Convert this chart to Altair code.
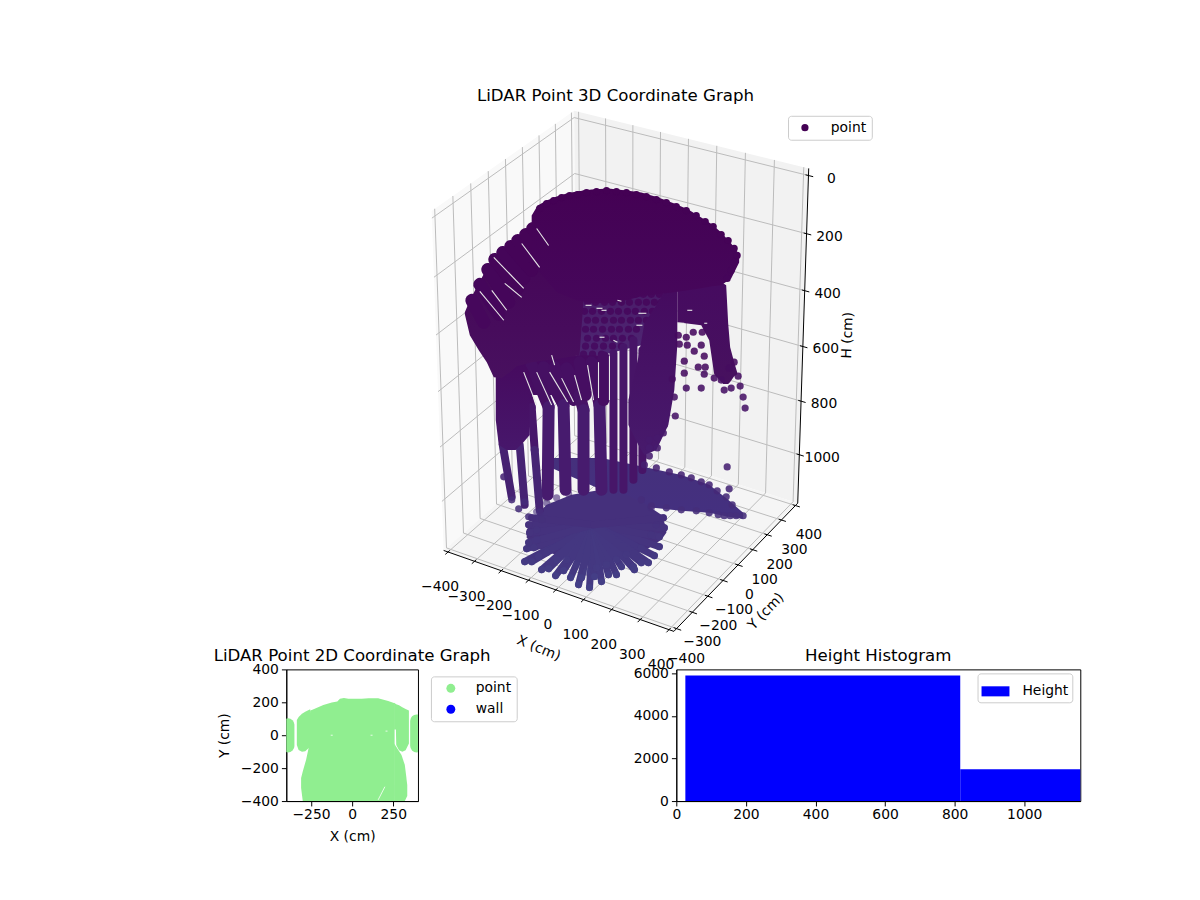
import altair as alt
import numpy as np
import pandas as pd

FONT = "DejaVu Sans"

# ---- 3D frame: view of the box and its ticks
x_lim = [-416.7, 416.7]
y_lim = [-416.7, 416.7]
h_lim = [-24.2, 1184.2]
x_ticks = [-400, -300, -200, -100, 0, 100, 200, 300, 400]
y_ticks = [-400, -300, -200, -100, 0, 100, 200, 300, 400]
h_ticks = [0, 200, 400, 600, 800, 1000]

# corners of the box, used to fit the perspective
corner_abc = [(0, 0, 0), (0, 1, 0), (1, 1, 0), (0, 0, 1), (1, 0, 1), (1, 1, 1)]
corner_sx = [430, 572, 808, 442, 672, 797]
corner_sy = [210, 110, 168, 551, 632, 503]

# ---- 3D cloud, read in screen units
dome_x = [530, 536, 545, 555, 565, 575, 590, 607, 625, 640, 657, 673, 687, 700, 711, 720, 730, 738]
dome_top = [215, 205, 200, 196, 193, 191, 189, 188, 190, 192, 197, 203, 209, 217, 224, 232, 243, 254]
dome_bot = [250, 270, 280, 292, 296, 300, 303, 303, 300, 296, 294, 292, 290, 288, 286, 285, 278, 262]
dome_edge = [(538, 208), (545, 203), (552, 200), (560, 197), (568, 195), (576, 194), (585, 192), (595, 191),
             (605, 190), (615, 191), (625, 192), (635, 194), (645, 196), (655, 199), (665, 202), (675, 206),
             (685, 210), (695, 215), (704, 221), (712, 226), (720, 234), (727, 240), (733, 248), (736, 255),
             (733, 262), (730, 270), (726, 278)]

left_x = [463, 468, 477, 485, 492, 500, 508, 515, 523, 530, 537, 560, 578, 582, 600]
left_top = [312, 300, 283, 268, 258, 251, 245, 239, 233, 227, 221, 200, 191, 190, 190]
left_bot = [314, 335, 350, 362, 377, 378, 372, 366, 364, 362, 361, 358, 355, 300, 300]

pillar_x = [494, 497, 505, 514, 522, 528]
pillar_top = [372, 370, 365, 362, 362, 372]
pillar_bot = [420, 445, 450, 450, 442, 435]

tier_x = [515, 530, 560, 590, 606]
tier_top = [355, 355, 355, 355, 355]
tier_bot = [392, 395, 395, 390, 385]

back_x = [575, 600, 640, 672]
back_top = [285, 285, 285, 285]
back_bot = [358, 355, 345, 330]

band_x = [627, 637, 643, 655, 667, 673, 676]
band_top = [400, 357, 323, 305, 285, 280, 280]
band_bot = [425, 445, 455, 450, 425, 390, 345]

right_x = [676, 700, 708, 713, 722, 725, 727, 729, 733, 736]
right_top = [282, 282, 282, 283, 283, 285, 323, 347, 362, 372]
right_bot = [322, 325, 340, 374, 384, 384, 384, 382, 376, 374]

wedge_x = [550, 600, 643, 680, 708, 727, 742]
wedge_top = [458, 458, 467, 475, 485, 500, 513]
wedge_bot = [468, 490, 507, 511, 513, 517, 519]

disc_x = [525, 535, 545, 570, 600, 625, 645, 660, 665]
disc_top = [530, 515, 505, 495, 490, 495, 505, 515, 528]
disc_bot = [538, 548, 552, 560, 562, 558, 550, 540, 533]
disc_hub = (592, 525)
disc_rim = [(523, 562), (525, 549), (532, 548), (530, 562), (537, 557), (540, 570), (547, 569),
            (554, 576), (562, 571), (569, 578), (577, 585), (588, 588), (580, 578), (593, 577),
            (600, 582), (607, 575), (615, 575), (620, 567), (632, 567), (527, 525), (528, 533),
            (527, 543), (663, 528), (658, 547), (658, 537), (653, 556), (647, 563), (633, 570),
            (640, 563), (530, 518), (662, 518)]
disc_inner = [(535, 540), (545, 553), (555, 560), (565, 560), (575, 565), (585, 572), (595, 568), (605, 565),
              (615, 560), (625, 555), (640, 548), (650, 535), (655, 525), (535, 530), (540, 520),
              (535, 512), (545, 503), (555, 498), (567, 494), (580, 491), (650, 508), (640, 500)]

fan_streaks = [
    [470, 300, 482, 322], [478, 284, 497, 314], [486, 269, 507, 302], [493, 259, 516, 288],
    [501, 252, 522, 278], [509, 246, 530, 270], [516, 240, 536, 262], [524, 234, 540, 252],
    [531, 228, 546, 245], [538, 222, 550, 235],
]
fan_gaps = [[492, 257, 522, 288], [520, 243, 538, 267], [535, 228, 547, 245], [503, 283, 520, 297],
            [478, 291, 502, 320], [490, 290, 505, 310], [550, 355, 553, 365],
            [600, 310, 605, 310], [637, 313, 645, 313], [635, 325, 641, 325], [686, 310, 691, 310],
            [677, 323, 683, 323], [703, 323, 706, 323], [584, 305, 590, 305], [595, 308, 601, 308],
            [598, 337, 603, 337], [616, 300, 620, 301], [612, 340, 616, 342],
            [522, 372, 535, 405], [535, 372, 550, 405], [548, 372, 566, 402], [560, 378, 572, 402],
            [573, 375, 580, 400], [586, 365, 592, 400], [597, 362, 597, 398], [608, 356, 608, 400]]
wide_streaks = [
    [530, 365, 547, 407, 546, 495], [542, 367, 562, 405, 564, 490], [553, 367, 572, 400],
    [565, 368, 578, 395, 582, 410, 582, 490], [578, 362, 584, 395], [590, 362, 598, 405, 600, 490],
    [602, 357, 602, 400],
]
narrow_streaks = [
    [501, 445, 510, 497], [518, 445, 523, 505], [517, 363, 530, 407, 533, 450, 538, 510],
    [612, 353, 612, 490], [622, 347, 622, 490], [632, 340, 632, 480], [641, 350, 641, 470],
]
sparse_rows = {
    294: [583, 591, 600, 608, 617, 625, 634, 642, 650, 658],
    302: [586, 594, 603, 611, 620, 628, 637, 645, 653, 660],
    311: [583, 591, 600, 609, 617, 626, 634, 643, 651],
    320: [586, 594, 603, 612, 620, 629, 637, 645],
    329: [584, 592, 601, 610, 618, 627, 635],
    338: [586, 595, 604, 612, 621, 630],
    346: [584, 593, 602, 611, 620],
    354: [582, 591, 600],
}
loose_dots = [
    (683, 361), (683, 373), (697, 367), (704, 367), (703, 374), (685, 388), (700, 388), (713, 378),
    (723, 390), (730, 388), (737, 376), (739, 386), (742, 397), (744, 408), (733, 362), (728, 368),
    (720, 380), (674, 416), (673, 397), (671, 379), (677, 335), (678, 344), (685, 337), (686, 345),
    (693, 351), (700, 345), (692, 332), (701, 332), (703, 356), (726, 467), (728, 489),
    (648, 440), (656, 438), (662, 433), (663, 425), (648, 448), (656, 448), (648, 456),
    (510, 500), (517, 509), (523, 502), (527, 517), (538, 512), (502, 477),
    (643, 465), (655, 468), (668, 472), (680, 475), (690, 478), (700, 482), (708, 485), (716, 491),
    (725, 497), (731, 505), (742, 516), (735, 516), (729, 516), (723, 516), (717, 515), (708, 513),
    (650, 506), (665, 508), (680, 510), (695, 511),
]

# ---- 2D scatter outline, cm
body_x = [-310, -300, -280, -265, -255, -245, -175, -124, -90, -74, -50, -23, 58, 100, 158, 219, 258]
body_top = [-260, -220, -150, -80, 150, 153, 183, 199, 205, 222, 226, 222, 222, 225, 224, 208, 195]
body_bot = [-320, -400, -400, -400, -400, -400, -400, -400, -400, -400, -400, -400, -400, -400, -400, -400, -400]
foot_x = [255, 300, 320, 335]
foot_top = [-50, -120, -180, -302]
foot_bot = [-400, -400, -400, -370]
lobe_l_x = [-336, -325, -305, -285, -255]
lobe_l_top = [92, 110, 130, 142, 158]
lobe_l_bot = [-60, -90, -100, -98, -70]
lobe_r_x = [255, 266, 268, 285, 305, 325, 345]
lobe_r_top = [197, 190, 188, 182, 170, 160, 150]
lobe_r_bot = [35, 35, -60, -92, -100, -92, -50]
side_x = [-390, 392]
side_top = [63, 87]
side_bot = [-65, -65]
speck_x = [-130, 112, 203, 199]
speck_y = [0, 0, 25, -313]
speck_x2 = [-118, 124, 215, 158]
speck_y2 = [0, 0, 25, -393]

# ---- histogram
bin_left = [26, 816]
bin_right = [816, 1161]
bin_count = [5900, 1490]


def box_projection():
    # perspective matrix fitted to the box corners (direct linear transform)
    rows = []
    for (a, b, c), u, v in zip(corner_abc, corner_sx, corner_sy):
        u, v = u / 1000, v / 1000
        rows.append([a, b, c, 1, 0, 0, 0, 0, -u * a, -u * b, -u * c, -u])
        rows.append([0, 0, 0, 0, a, b, c, 1, -v * a, -v * b, -v * c, -v])
    m = np.linalg.svd(np.array(rows, dtype=float))[2][-1].reshape(3, 4)

    def screen(x, y, h):
        p = np.array([(x - x_lim[0]) / (x_lim[1] - x_lim[0]),
                      (y - y_lim[0]) / (y_lim[1] - y_lim[0]),
                      (h - h_lim[0]) / (h_lim[1] - h_lim[0]), 1.0])
        q = m @ p
        return float(q[0] / q[2] * 1000), float(q[1] / q[2] * 1000)
    return screen


P = box_projection()
x0, x1 = x_lim
y0, y1 = y_lim
h0, h1 = h_lim

SX = alt.Scale(domain=[8, 1192], range=[0, 1184], nice=False, zero=False)
SY = alt.Scale(domain=[670, 8], range=[662, 0], nice=False, zero=False)
hue = alt.Scale(domain=[190, 360, 450, 520], range=["#440154", "#460a5f", "#471b6e", "#45307c"])


def X(f="x"):
    return alt.X(f + ":Q", scale=SX, axis=None)


def Y(f="y"):
    return alt.Y(f + ":Q", scale=SY, axis=None)


def polygon_area(verts):
    # any convex polygon as an area mark: one top and one bottom per x
    xs = sorted(set(v[0] for v in verts))
    rows = []
    n = len(verts)
    for sx in xs:
        ys = []
        for i in range(n):
            a, b = verts[i], verts[(i + 1) % n]
            lo, hi = min(a[0], b[0]), max(a[0], b[0])
            if lo <= sx <= hi:
                if a[0] == b[0]:
                    ys += [a[1], b[1]]
                else:
                    ys.append(a[1] + (sx - a[0]) / (b[0] - a[0]) * (b[1] - a[1]))
        rows.append({"x": sx, "y": min(ys), "y2": max(ys)})
    return pd.DataFrame(rows)


def pane(verts, color):
    return alt.Chart(polygon_area(verts)).mark_area(color=color).encode(x=X(), y=Y(), y2="y2:Q")


def segments(pairs):
    rows = []
    for a, b in pairs:
        rows.append({"x": a[0], "y": a[1], "xe": b[0], "ye": b[1]})
    return pd.DataFrame(rows)


def rules(pairs, color, width):
    return alt.Chart(segments(pairs)).mark_rule(color=color, strokeWidth=width).encode(
        x=X(), y=Y(), x2="xe:Q", y2="ye:Q")


def mass(xs, top, bot, c0, c1):
    df = pd.DataFrame({"x": xs, "y": top, "y2": bot})
    fill = alt.Gradient(gradient="linear", x1=0, x2=0, y1=0, y2=1,
                        stops=[alt.GradientStop(color=c0, offset=0), alt.GradientStop(color=c1, offset=1)])
    return alt.Chart(df).mark_area(color=fill).encode(x=X(), y=Y(), y2="y2:Q")


def streaks(lines, width):
    rows = []
    for ln in lines:
        for i in range(0, len(ln) - 2, 2):
            rows.append({"x": ln[i], "y": ln[i + 1], "xe": ln[i + 2], "ye": ln[i + 3],
                         "h": (ln[i + 1] + ln[i + 3]) / 2})
    return alt.Chart(pd.DataFrame(rows)).mark_rule(strokeWidth=width, strokeCap="round").encode(
        x=X(), y=Y(), x2="xe:Q", y2="ye:Q", color=alt.Color("h:Q", scale=hue, legend=None))


def dots(points, opacity=0.88):
    df = pd.DataFrame(points, columns=["x", "y"])
    return alt.Chart(df).mark_circle(size=52, opacity=opacity).encode(
        x=X(), y=Y(), color=alt.Color("y:Q", scale=hue, legend=None))


def labels(xs, ys, texts, **kw):
    df = pd.DataFrame({"x": xs, "y": ys, "t": texts})
    return alt.Chart(df).mark_text(font=FONT, fontSize=13.9, color="black", baseline="middle", **kw).encode(
        x=X(), y=Y(), text="t:N")


# frame
left_pane = pane([P(x0, y0, h0), P(x0, y1, h0), P(x0, y1, h1), P(x0, y0, h1)], "#f9f9f9")
back_pane = pane([P(x0, y1, h0), P(x1, y1, h0), P(x1, y1, h1), P(x0, y1, h1)], "#f2f2f2")
floor_pane = pane([P(x0, y0, h1), P(x0, y1, h1), P(x1, y1, h1), P(x1, y0, h1)], "#f5f5f5")

grid_pairs = []
for t in x_ticks:
    grid_pairs += [(P(t, y0, h1), P(t, y1, h1)), (P(t, y1, h1), P(t, y1, h0))]
for t in y_ticks:
    grid_pairs += [(P(x0, t, h1), P(x1, t, h1)), (P(x0, t, h1), P(x0, t, h0))]
for t in h_ticks:
    grid_pairs += [(P(x0, y0, t), P(x0, y1, t)), (P(x0, y1, t), P(x1, y1, t))]
grid = rules(grid_pairs, "#bcbcbc", 1)

axis_pairs = [(P(x0, y0, h1), P(x1, y0, h1)), (P(x1, y0, h1), P(x1, y1, h1)), (P(x1, y1, h0), P(x1, y1, h1))]
for t in x_ticks:
    axis_pairs.append((P(t, y0 + 10, h1), P(t, y0 - 16, h1)))
for t in y_ticks:
    axis_pairs.append((P(x1 - 10, t, h1), P(x1 + 16, t, h1)))
for t in h_ticks:
    axis_pairs.append((P(x1 - 10, y1, t), P(x1 + 16, y1, t)))
axis_lines = rules(axis_pairs, "black", 1)


def minus(v):
    return str(v).replace("-", "\u2212")


x_lab = labels([P(t, y0, h1)[0] - 8 for t in x_ticks], [P(t, y0, h1)[1] + 35.5 for t in x_ticks],
               [minus(t) for t in x_ticks], align="center")
y_lab = labels([P(x1, t, h1)[0] + 11.5 + t / 200 for t in y_ticks], [P(x1, t, h1)[1] + 30 for t in y_ticks],
               [minus(t) for t in y_ticks], align="center")
h_lab = labels([P(x1, y1, t)[0] + 23 for t in h_ticks], [P(x1, y1, t)[1] + 3 for t in h_ticks],
               [str(t) for t in h_ticks], align="center")

x_title = labels([537], [649], ["X (cm)"], align="center", angle=22)
y_title = labels([765], [612], ["Y (cm)"], align="center", angle=314)
h_title = labels([847], [335], ["H (cm)"], align="center", angle=272)

title_3d = alt.Chart(pd.DataFrame({"x": [614], "y": [95], "t": ["LiDAR Point 3D Coordinate Graph"]})).mark_text(
    font=FONT, fontSize=16.67, color="black", baseline="middle", align="center").encode(x=X(), y=Y(), text="t:N")

legend_3d = alt.Chart(pd.DataFrame({"x": [607], "y": [240], "series": ["point"]})).mark_circle(size=52).encode(
    x=X(), y=Y(),
    color=alt.Color("series:N", scale=alt.Scale(domain=["point"], range=["#440154"]),
                    legend=alt.Legend(title=None, orient="none", legendX=779, legendY=107, padding=5,
                                      fillColor="white", strokeColor="#cccccc", cornerRadius=3,
                                      labelFont=FONT, labelFontSize=13.9, labelColor="black",
                                      symbolSize=52, symbolOpacity=1, symbolOffset=5, labelOffset=19)))

sparse_pts = [(x, y) for y, row in sparse_rows.items() for x in row]

top = alt.layer(
    left_pane, back_pane, floor_pane, grid, axis_lines, x_lab, y_lab, h_lab, x_title, y_title, h_title, title_3d,
    legend_3d,
    mass(wedge_x, wedge_top, wedge_bot, "#45307c", "#443080"),
    mass(disc_x, disc_top, disc_bot, "#45307c", "#45307c"),
    streaks([[disc_hub[0], disc_hub[1], r[0], r[1]] for r in disc_rim], 7),
    dots(disc_rim),
    dots(disc_inner, 0.6),
    mass(back_x, back_top, back_bot, "#4a1a68", "#4e2874"),
    dots(sparse_pts),
    mass(tier_x, tier_top, tier_bot, "#460a5f", "#460f63"),
    streaks(wide_streaks, 12),
    streaks(narrow_streaks, 8),
    mass(pillar_x, pillar_top, pillar_bot, "#460a5f", "#47176b"),
    mass(band_x, band_top, band_bot, "#450a5e", "#471a6c"),
    mass(right_x, right_top, right_bot, "#460b60", "#47115f"),
    dots(loose_dots),
    mass(left_x, left_top, left_bot, "#440154", "#48105f"),
    streaks(fan_streaks, 13),
    mass(dome_x, dome_top, dome_bot, "#440154", "#46075b"),
    dots(dome_edge, 1),
    rules([((g[0], g[1]), (g[2], g[3])) for g in fan_gaps], "#e8e8e8", 1.1),
).resolve_scale(color="independent").properties(width=1184, height=662)

# ---- 2D panel
SX2 = alt.Scale(domain=[-400, 400], nice=False, zero=False)
SY2 = alt.Scale(domain=[-400, 400], nice=False, zero=False)
ax_x2 = alt.Axis(values=[-250, 0, 250], title="X (cm)", grid=False, labelPadding=2, titlePadding=8, format="d")
ax_y2 = alt.Axis(values=[-400, -200, 0, 200, 400], title="Y (cm)", grid=False, titlePadding=9, format="d")
GREEN = "#90ee90"


def green(xs, top_vals, bot_vals):
    df = pd.DataFrame({"x": xs, "y": top_vals, "y2": bot_vals})
    return alt.Chart(df).mark_area(color=GREEN, clip=True).encode(
        x=alt.X("x:Q", scale=SX2, axis=ax_x2), y=alt.Y("y:Q", scale=SY2, axis=ax_y2), y2="y2:Q")


side = alt.Chart(pd.DataFrame({"x": side_x, "y": side_top, "y2": side_bot})).mark_rule(
    color=GREEN, strokeWidth=13, strokeCap="round", clip=True).encode(
    x=alt.X("x:Q", scale=SX2, axis=ax_x2), y=alt.Y("y:Q", scale=SY2, axis=ax_y2), y2="y2:Q")

specks = alt.Chart(pd.DataFrame({"x": speck_x, "y": speck_y, "xe": speck_x2, "ye": speck_y2})).mark_rule(
    color="white", strokeWidth=0.8, clip=True).encode(
    x=alt.X("x:Q", scale=SX2, axis=ax_x2), y=alt.Y("y:Q", scale=SY2, axis=ax_y2), x2="xe:Q", y2="ye:Q")

legend_2d = alt.Chart(pd.DataFrame({"x": [0], "y": [0], "series": ["point"]})).mark_circle(size=80).encode(
    x=alt.X("x:Q", scale=SX2, axis=ax_x2), y=alt.Y("y:Q", scale=SY2, axis=ax_y2),
    color=alt.Color("series:N", scale=alt.Scale(domain=["point", "wall"], range=[GREEN, "#0000ff"]),
                    legend=alt.Legend(title=None, orient="none", legendX=145, legendY=7, padding=5, rowPadding=6,
                                      fillColor="white", strokeColor="#cccccc", cornerRadius=3,
                                      labelFont=FONT, labelFontSize=13.9, labelColor="black",
                                      symbolSize=80, symbolOpacity=1, symbolOffset=8, labelOffset=18)))

panel_2d = alt.layer(
    legend_2d,
    green(body_x, body_top, body_bot),
    green(foot_x, foot_top, foot_bot),
    green(lobe_l_x, lobe_l_top, lobe_l_bot),
    green(lobe_r_x, lobe_r_top, lobe_r_bot),
    side,
    specks,
).properties(width=132, height=132, view=alt.ViewBackground(stroke="black"),
             title=alt.TitleParams("LiDAR Point 2D Coordinate Graph", font=FONT, fontSize=16.67,
                                   fontWeight="normal", frame="group", offset=-2))

# ---- histogram
hist_df = pd.DataFrame({"left": bin_left, "right": bin_right, "count": bin_count, "zero": [0, 0], "series": ["Height", "Height"]})
panel_hist = alt.Chart(hist_df).mark_rect().encode(
    x=alt.X("left:Q", scale=alt.Scale(domain=[0, 1161], nice=False, zero=False),
            axis=alt.Axis(values=[0, 200, 400, 600, 800, 1000], title=None, grid=False, format="d", labelPadding=2)),
    x2="right:Q",
    y=alt.Y("count:Q", scale=alt.Scale(domain=[0, 6190], nice=False),
            axis=alt.Axis(values=[0, 2000, 4000, 6000], title=None, grid=False, format="d")),
    y2="zero:Q",
    color=alt.Color("series:N", scale=alt.Scale(domain=["Height"], range=["#0000ff"]),
                    legend=alt.Legend(title=None, orient="none", legendX=302, legendY=4, padding=4,
                                      fillColor="white", strokeColor="#cccccc", cornerRadius=3,
                                      labelFont=FONT, labelFontSize=13.9, labelColor="black",
                                      symbolType="M-1,-0.36H1V0.36H-1Z", symbolSize=784, symbolOpacity=1,
                                      symbolStrokeWidth=0, labelOffset=13)),
).properties(width=405, height=132, view=alt.ViewBackground(stroke="black"),
             title=alt.TitleParams("Height Histogram", font=FONT, fontSize=16.67, fontWeight="normal",
                                   frame="group", offset=2))


def spacer(w):
    return alt.Chart(pd.DataFrame({"a": [0]})).mark_point(opacity=0).encode(
        x=alt.value(0), y=alt.value(0)).properties(width=w, height=132)


bottom = alt.hconcat(spacer(276), panel_2d, spacer(259), panel_hist, spacing=0, bounds="flush").resolve_scale(color="independent")

chart = alt.vconcat(top, bottom, spacing=0, bounds="flush").resolve_scale(color="independent").properties(
    padding=0
).configure_view(stroke=None).configure_axis(
    labelFont=FONT, labelFontSize=13.9, labelColor="black", titleFont=FONT, titleFontSize=13.9,
    titleColor="black", titleFontWeight="normal", domainColor="black", tickColor="black", tickSize=4.9,
    labelPadding=3, titlePadding=4, labelFlush=False, labelOverlap=False,
).configure_title(color="black")

chart.save("out.html", embed_options={"renderer": "svg", "actions": False})
